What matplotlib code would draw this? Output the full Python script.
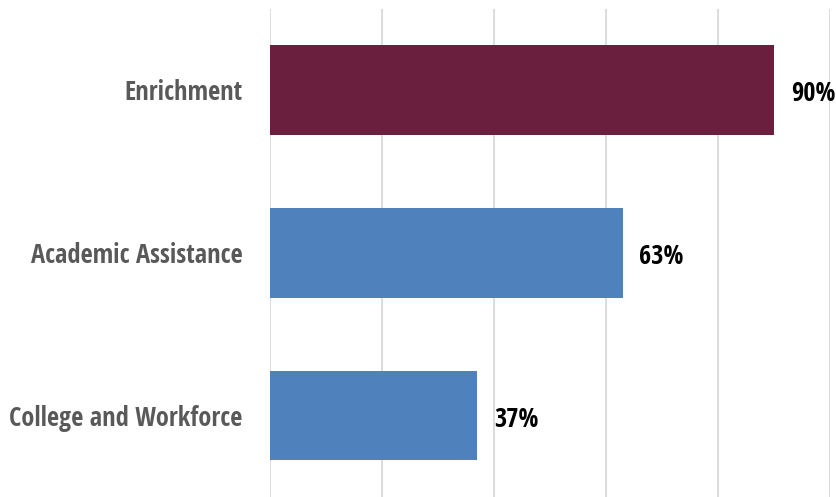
import matplotlib
matplotlib.use("Agg")
import matplotlib.pyplot as plt

# Data
categories = ["Enrichment", "Academic Assistance", "College and Workforce"]
values = [90, 63, 37]
colors = ["#6B1F3E", "#4F81BD", "#4F81BD"]

plt.rcParams["font.family"] = ["Open Sans Condensed", "DejaVu Sans"]

fig = plt.figure(figsize=(8.36, 4.97), dpi=100)
ax = fig.add_axes([270 / 836, 0.0, 560 / 836, 488.5 / 497])

ypos = list(range(len(categories)))
ax.barh(ypos, values, height=0.55, color=colors, zorder=2)
ax.set_ylim(len(categories) - 0.5, -0.5)
ax.set_xlim(0, 100)
ax.set_xticks([0, 20, 40, 60, 80, 100])
ax.set_xticklabels([])
ax.xaxis.grid(True, color="#D9D9D9", linewidth=1.3, zorder=0)
ax.tick_params(axis="both", length=0)
ax.set_yticks(ypos)
ax.set_yticklabels(categories, fontsize=19, fontweight="bold", color="#595959")
ax.tick_params(axis="y", pad=20)
for s in ax.spines.values():
    s.set_visible(False)

# value labels just right of each bar
for y, v in zip(ypos, values):
    ax.annotate(f"{v}%", (v, y), xytext=(12, -2.5), textcoords="offset points",
                va="center", ha="left", fontsize=19, fontweight="bold",
                color="black")

fig.savefig("out.png", dpi=100)
